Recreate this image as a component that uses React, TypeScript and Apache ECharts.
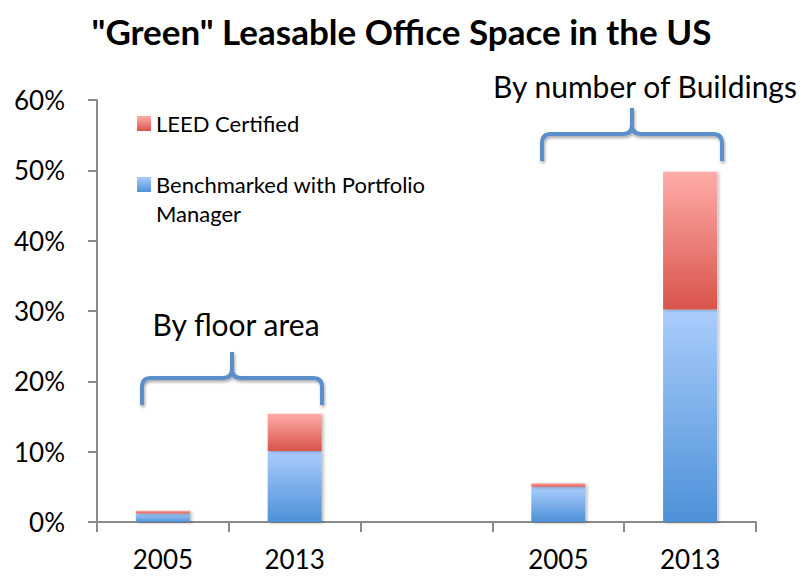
import React, { useEffect, useRef } from "react";
import * as echarts from "echarts";

const categories = ["2005", "2013", "", "2005", "2013"];
const benchmarked = [1.2, 10.1, null, 5.0, 30.2];
const leed = [0.4, 5.3, null, 0.5, 19.6];
const yTicks = { min: 0, max: 60, interval: 10 };

const FONT = "Lato";

const braceD =
  "M0,53 L0,35 Q0,26 9,26 L81,26 Q90,26 90,17 L90,0 M90,17 Q90,26 99,26 L171,26 Q180,26 180,35 L180,53";
echarts.graphic.registerShape("brace", echarts.graphic.extendPath(braceD, {}) as any);

const blueGrad = new echarts.graphic.LinearGradient(0, 0, 0, 1, [
  { offset: 0, color: "#aacdfc" },
  { offset: 1, color: "#4d91d8" },
]);
const redGrad = new echarts.graphic.LinearGradient(0, 0, 0, 1, [
  { offset: 0, color: "#ffaca8" },
  { offset: 1, color: "#d9544b" },
]);

const braceStyle = {
  stroke: "#5b8fca",
  lineWidth: 4,
  fill: "none",
  shadowBlur: 3,
  shadowColor: "rgba(0,0,0,0.35)",
  shadowOffsetX: 1,
  shadowOffsetY: 2,
};

export default function App() {
  const ref = useRef<HTMLDivElement>(null);
  useEffect(() => {
    document.body.style.margin = "0";
    const chart = echarts.init(ref.current!, null, { renderer: "svg" });
    const barShadow = {
      shadowBlur: 3,
      shadowColor: "rgba(0,0,0,0.25)",
      shadowOffsetX: 2,
      shadowOffsetY: 1,
    };
    chart.setOption({
      animation: false,
      backgroundColor: "#ffffff",
      textStyle: { fontFamily: FONT },
      title: {
        text: '"Green" Leasable Office Space in the US',
        left: "center",
        top: 8,
        textStyle: { fontFamily: FONT, fontSize: 35, fontWeight: "bold", color: "#000" },
      },
      legend: [
        {
          data: ["LEED Certified"],
          orient: "vertical",
          left: 137,
          top: 109,
          padding: 0,
          itemWidth: 14,
          itemHeight: 15,
          icon: "rect",
          textStyle: { fontFamily: FONT, fontSize: 22, color: "#000", lineHeight: 29 },
        },
        {
          data: ["Benchmarked with Portfolio Manager"],
          orient: "vertical",
          left: 137,
          top: 141,
          padding: 0,
          itemWidth: 14,
          itemHeight: 15,
          icon: "rect",
          formatter: () => "\nBenchmarked with Portfolio\nManager",
          textStyle: {
            fontFamily: FONT,
            fontSize: 22,
            color: "#000",
            lineHeight: 29,
          },
        },
      ],
      grid: { left: 97, top: 100, right: 47, bottom: 56 },
      xAxis: {
        type: "category",
        data: categories,
        axisLine: { lineStyle: { color: "#8a8a8a", width: 2 } },
        axisTick: { show: true, interval: 0, length: 10, lineStyle: { color: "#8a8a8a", width: 2 } },
        axisLabel: { interval: 0, margin: 24, fontFamily: FONT, fontSize: 26, color: "#000" },
        splitLine: { show: false },
      },
      yAxis: {
        type: "value",
        min: yTicks.min,
        max: yTicks.max,
        interval: yTicks.interval,
        axisLine: { show: true, lineStyle: { color: "#8a8a8a", width: 2 } },
        axisTick: { show: true, length: 9, lineStyle: { color: "#8a8a8a", width: 2 } },
        axisLabel: { margin: 32, formatter: "{value}%", fontFamily: FONT, fontSize: 26, color: "#000" },
        splitLine: { show: false },
      },
      series: [
        {
          name: "Benchmarked with Portfolio Manager",
          type: "bar",
          stack: "total",
          barWidth: "41%",
          data: benchmarked,
          itemStyle: { color: blueGrad, ...barShadow },
        },
        {
          name: "LEED Certified",
          type: "bar",
          stack: "total",
          barWidth: "41%",
          data: leed,
          itemStyle: { color: redGrad, ...barShadow },
        },
      ],
      graphic: [
        {
          type: "text",
          x: 236,
          y: 324,
          style: {
            text: "By floor area",
            font: `30px ${FONT}`,
            fill: "#000",
            align: "center",
            verticalAlign: "middle",
          },
        },
        {
          type: "text",
          x: 645,
          y: 86,
          style: {
            text: "By number of Buildings",
            font: `30px ${FONT}`,
            fill: "#000",
            align: "center",
            verticalAlign: "middle",
          },
        },
        { type: "brace", x: 142, y: 352, style: braceStyle },
        { type: "brace", x: 542, y: 108, style: braceStyle },
      ],
    });
    return () => chart.dispose();
  }, []);
  return <div ref={ref} style={{ width: 803, height: 578 }} />;
}
